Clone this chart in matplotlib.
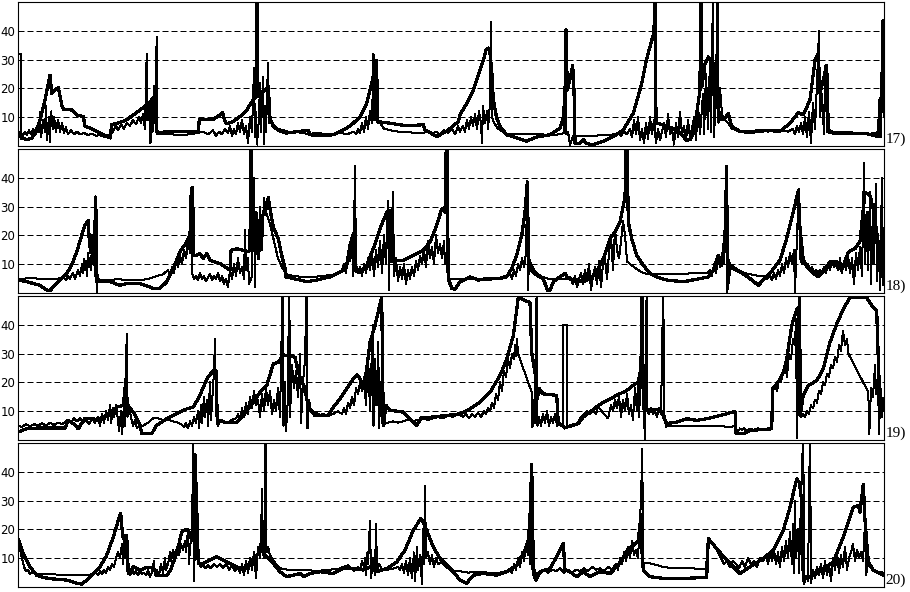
import matplotlib
matplotlib.use('Agg')
import matplotlib.pyplot as plt
import numpy as np

# position along each strip (0..866) and value
# thick = smoothed series, thin = raw daily series

thick_17 = [(0, 4.7), (3.3, 2.8), (8.7, 2.2), (13.7, 2.8), (18.7, 5.1), (22, 9.1), (27, 16), (32, 24.6),
            (33.7, 18.3), (37, 19.4), (40.3, 20.3), (43.7, 14.3), (45.3, 12.8), (53.7, 12.5), (58.7, 10.8),
            (65.3, 10.2), (67, 6.8), (72, 6.2), (78.7, 5.1), (85.3, 3.9), (92, 2.8), (93.7, 7.4), (102, 8.2),
            (108.7, 9.1), (115.3, 10.8), (122, 12.5), (128.7, 14.3), (133.7, 16), (136, 17.1), (138.7, 5.1),
            (142, 4.5), (148.7, 5.1), (180.3, 5.1), (181.3, 9.1), (195.3, 9.3), (202, 10.8), (204.7, 11.6),
            (207, 8.5), (208.7, 7.7), (215.3, 8.5), (222, 10.2), (228.7, 12.5), (235.3, 16), (238, 16.9),
            (239, 60), (240, 17.1), (242, 17.7), (248.7, 20), (250.3, 20.6), (252, 9.7), (255.3, 6.8),
            (262, 5.1), (268.7, 4.5), (282, 5.1), (290.3, 5.4), (292, 3.9), (302, 3.6), (315.3, 3.9),
            (322, 5.1), (328.7, 6.2), (335.3, 7.9), (342, 10.2), (348.7, 14.8), (353.7, 21.7), (357, 27.5),
            (358.7, 29.8), (359.3, 8.5), (372, 7.9), (388.7, 7), (405.3, 7.4), (407, 5.6), (418.7, 3.3),
            (428.7, 5.1), (440.3, 8.5), (442, 10.8), (448.7, 14.8), (455.3, 19.4), (460.3, 24.6), (465.3, 29.8),
            (468, 33.2), (470.3, 34), (472, 32), (473.7, 26.3), (475.3, 16), (478.7, 9.7), (482, 6.8),
            (488.7, 3.9), (498.7, 2.8), (508.7, 1.6), (512, 2.2), (518.7, 3.1), (532, 3.9), (542, 6.2),
            (545.3, 9.7), (547, 18.3), (548, 40.3), (549.3, 19.4), (552, 23.4), (554.7, 28), (556, 19.4),
            (557, 1), (562, 1), (565.3, 2.2), (568.7, 0.8), (575.3, 0.5), (585.3, 1.6), (595.3, 3.3),
            (605.3, 5.6), (615.3, 11.4), (623.7, 21.7), (628.7, 30.3), (633.7, 36.7), (636, 39.5), (637, 60),
            (638, 7.9), (645.3, 7.4), (658.7, 5.6), (665.3, 3.5), (668, 2), (672, 2.2), (675.3, 4.5),
            (678.7, 11.4), (682, 19.4), (682.7, 60), (684, 20.6), (687, 28.6), (690.3, 30.9), (693.7, 29.8),
            (697, 21.7), (700.3, 12.5), (703.7, 9.1), (707, 9.7), (710.3, 11.4), (713.7, 6.8), (722, 5.1),
            (732, 4.7), (748.7, 5.4), (762, 5.1), (772, 7.9), (780.3, 11.6), (785.3, 10.8), (792, 16),
            (797, 29.8), (800.3, 32), (802, 18.3), (808.7, 28), (810.3, 5.6), (815.3, 4.7), (832, 4.5),
            (848.7, 4.3), (860.3, 3.3), (862, 16), (863.7, 17.1), (865, 43.6), (866, 12)]

thin_17 = [(0, 32), (3.3, 32), (3.4, 4.5), (5, 3.5), (7, 5), (9, 3.8), (11, 5.5), (13, 4), (15, 6), (17, 4.5),
           (19, 7), (21, 5), (22, 12), (23, 3), (25, 9), (27, 5), (28, 14), (29, 2), (31, 10), (32, 1.2),
           (33, 12), (35, 6), (36, 10), (38, 5), (40, 9), (42, 5), (44, 8), (46, 4.5), (48, 6.5), (50, 4),
           (53, 5.5), (56, 4), (59, 5), (62, 4), (66, 4.5), (70, 3.8), (74, 4.2), (78, 3.5), (82, 3.8),
           (86, 3.2), (90, 3.8), (92, 3.5), (95, 5), (98, 7), (100, 5.5), (103, 7.5), (106, 6), (109, 8),
           (112, 7), (115, 9), (118, 7.5), (121, 10), (123, 8), (125, 11), (127, 6), (128.7, 32), (129.5, 9),
           (131, 14), (132.5, 1), (133.5, 15), (134.5, 5), (136, 21), (137, 8), (138.7, 38), (139.5, 4),
           (142, 4), (150, 4.2), (160, 3.8), (170, 4), (180, 4.5), (185, 5), (190, 4), (195, 5.5), (198, 3.5),
           (201, 5), (204, 4), (207, 6), (210, 4.5), (212, 7), (214, 3.5), (216, 6), (218, 4), (220, 8),
           (222, 5), (224, 9), (226, 4), (228, 7), (230, 1), (232, 10), (234, 5), (236, 27), (237, 3),
           (238, 12), (239, 0.5), (241, 10), (242, 22), (243, 5), (245, 24), (246, 0.5), (247, 14), (248, 5),
           (250, 29), (251, 8), (252, 9), (256, 7), (260, 6), (265, 5.5), (270, 5), (280, 4.8), (290, 4.2),
           (300, 4.5), (310, 4), (320, 4.5), (330, 4.2), (336, 5), (338, 4), (340, 6), (342, 4.5), (344, 8),
           (346, 5), (348, 10), (350, 6), (352, 12), (354, 8), (355.5, 32), (356.5, 9), (358, 16), (359.5, 8),
           (362, 8), (366, 6), (372, 5.5), (380, 5), (390, 4.8), (400, 4.5), (410, 4.8), (414, 4), (418, 5),
           (422, 4), (426, 5.5), (430, 4.5), (434, 6), (437, 4), (440, 7), (442, 5), (445, 7), (447, 5),
           (449, 9), (451, 6), (453, 10), (455, 7), (457, 11), (459, 6), (461, 12), (463, 8), (464, 1),
           (465, 14), (467, 8), (469, 12), (470, 6), (472, 15), (473, 43), (474, 10), (476, 8), (480, 6),
           (485, 5), (490, 4), (500, 4), (510, 4), (520, 4.2), (530, 3.8), (540, 4), (546, 4.5), (547.5, 40),
           (548.5, 4), (550, 5), (552, 0.3), (555, 3.5), (565, 3.5), (575, 3.5), (585, 3.8), (595, 4),
           (600, 4.5), (603, 3.5), (606, 5), (609, 4), (612, 6), (614, 3), (616, 9), (618, 4), (620, 10),
           (622, 2), (624, 6), (626, 1), (628, 8), (630, 2.5), (632, 10), (634, 4), (636, 9), (638, 1),
           (640, 6), (642, 2), (644, 5), (646, 8), (648, 3), (650, 11), (652, 4), (654, 6), (656, 0.5),
           (658, 8), (660, 3), (662, 12), (664, 4), (666, 7), (668, 2), (670, 9), (672, 3), (674, 6),
           (676, 10), (678, 2), (680, 14), (682, 4), (685, 18), (686, 4), (688, 25), (690, 6), (692, 30),
           (693, 5), (695, 55), (696, 3), (698, 20), (699.5, 55), (700.5, 8), (702, 20), (704, 11), (707, 9),
           (710, 8), (714, 6), (718, 5.5), (722, 5), (730, 5), (740, 5.5), (750, 5), (760, 5.5), (770, 5),
           (775, 6), (777, 4), (779, 7), (781, 5), (783, 8), (785, 4), (787, 10), (789, 3), (791, 12),
           (793, 1), (795, 15), (797, 6), (799, 22), (801, 40), (802, 10), (804, 18), (806, 4), (807.5, 28),
           (809, 5), (812, 4.5), (820, 4), (830, 4), (840, 4), (850, 4.2), (858, 4.5), (860, 5), (862, 8),
           (863, 3), (864.5, 43), (866, 10)]

thick_18 = [(0, 4.5), (8.7, 3.9), (15.3, 3.3), (22, 2.7), (28.7, 1), (32, 0.8), (35.3, 2.2), (42, 4.5),
            (48.7, 6.8), (53.7, 9.7), (58.7, 14.3), (63.7, 20), (67, 23.5), (70.3, 25.2), (71.3, 17.7),
            (73, 14), (74.5, 20), (76, 10), (77.7, 33.3), (79, 3.9), (82, 3.9), (92, 3.9), (102, 2.7),
            (108.7, 3.3), (122, 3.3), (135.3, 1.6), (142, 1.6), (148.7, 3.9), (155.3, 8.5), (162, 14.3),
            (168.7, 17.7), (172, 20), (173.3, 36.1), (174.7, 36.7), (175.3, 13.1), (178.7, 13.1), (182, 13.7),
            (185.3, 12), (188.7, 13.7), (192, 11.4), (202, 10.2), (212, 7.9), (213, 14.8), (218.7, 15.4),
            (225.3, 14.8), (230.3, 14.3), (232, 15), (232.7, 60), (233.7, 15.4), (235.3, 16.6), (238, 28),
            (240.3, 11.9), (243.7, 26.9), (247, 27.5), (250.3, 33.2), (252, 29.2), (255.3, 22.9),
            (260.3, 18.8), (263.7, 13.1), (267, 8.5), (268, 5.6), (275.3, 5), (282, 4.5), (288.7, 3.9),
            (298.7, 4.5), (312, 5.6), (318.7, 6.8), (325.3, 7.9), (328.7, 9.6), (332, 16.6), (335.3, 20.6),
            (337, 20.9), (338, 7.6), (342, 7.3), (348.7, 9.6), (355.3, 15.4), (362, 22.3), (368.7, 28),
            (372, 28.6), (373.7, 10.8), (378.7, 11.4), (385.3, 11.4), (395.3, 13.1), (405.3, 14.8), (412, 17.7),
            (418.7, 23.5), (423.7, 29.2), (427, 28), (428.7, 60), (430.3, 5), (433.7, 1.6), (437, 1.3),
            (442, 3.9), (452, 5.6), (460.3, 4.5), (465.3, 4.8), (482, 5), (488.7, 5.6), (493.7, 8.5),
            (498.7, 13.1), (503.7, 20), (507, 28), (509.3, 38.5), (510.7, 9.6), (513.7, 7.9), (518.7, 6.2),
            (525.3, 5), (529.3, 1), (532, 1), (535.3, 3.9), (542, 5.6), (547, 6.8), (550.3, 5), (558.7, 4.5),
            (565.3, 3.9), (572, 5), (578.7, 7.3), (585.3, 11.9), (592, 18.9), (597, 21.2), (602, 24.6),
            (607, 33.3), (608.7, 60), (610.3, 24.6), (613.7, 18.9), (618.7, 13.1), (625.3, 9.6), (632, 6.8),
            (638.7, 5.6), (648.7, 4.5), (665.3, 3.9), (682, 5), (690.3, 5.6), (695.3, 7.9), (700.3, 13.1),
            (703.7, 9.6), (707, 20), (708.7, 44), (709.3, 1.6), (712, 9), (722, 7.3), (732, 5), (740.3, 2.7),
            (745.3, 4.5), (752, 6.8), (762, 11.4), (768.7, 18.9), (775.3, 28.1), (780.3, 35.6), (782, 22.3),
            (785.3, 11.4), (790.3, 8.5), (795.3, 6.8), (800.3, 5.6), (805.3, 7.3), (812, 10.8), (818.7, 10.8),
            (823.7, 7.9), (830.3, 14.2), (837, 15.4), (842, 18), (847, 35), (852, 33.9), (855.3, 29.2),
            (858.7, 21), (862, 12), (865.3, 5), (866, 3)]

thin_18 = [(0, 5), (5, 4.8), (10, 5.2), (20, 5), (30, 4.8), (40, 5), (45, 5.5), (48, 4.5), (50, 6), (52, 5),
           (55, 7), (57, 5), (60, 8), (62, 6), (64, 10), (65, 7), (66, 12), (67, 8), (68, 11), (69, 6),
           (70, 14), (71, 9), (72, 12), (73, 8), (74, 18), (75, 10), (76, 20), (77, 6), (78, 30), (78.5, 15),
           (79, 0.3), (79.5, 5), (82, 4.5), (90, 4.5), (100, 4.8), (110, 4.5), (120, 4.5), (130, 4.8),
           (135, 5.5), (140, 6), (145, 6.5), (150, 8), (152, 6), (154, 9), (156, 7), (158, 11), (160, 9),
           (162, 13), (164, 10), (166, 15), (168, 12), (170, 18), (172, 14), (173, 25), (174, 7), (176, 5),
           (178, 6), (180, 4.5), (182, 7), (184, 5), (186, 6), (188, 4), (190, 5.5), (192, 6.5), (194, 4.5),
           (196, 6), (198, 5), (200, 7), (202, 4), (204, 6), (206, 3), (208, 5), (210, 2), (212, 8), (214, 5),
           (216, 10), (218, 6), (220, 12), (222, 7), (224, 9), (226, 5), (227, 22), (228, 8), (230, 12),
           (231, 3), (234, 6), (236, 40), (237, 2), (238, 28), (240, 12), (242, 30), (244, 15), (246, 33),
           (248, 28), (252, 24), (256, 18), (260, 12), (264, 9), (268, 6.5), (275, 6), (285, 5.5),
           (295, 5.5), (305, 6), (315, 6.2), (322, 7), (324, 8), (326, 10), (328, 7), (330, 13), (332, 11),
           (334, 18), (335, 6), (336, 20), (337, 44), (338, 8), (340, 7), (342, 9), (344, 6), (346, 10),
           (348, 7), (350, 12), (352, 8), (354, 14), (356, 6), (358, 15), (360, 9), (362, 18), (364, 7),
           (366, 20), (368, 10), (370, 32), (371, 1), (372, 25), (373, 14), (375, 35), (376, 6), (378, 12),
           (380, 4), (382, 9), (384, 5), (386, 10), (388, 3), (390, 8), (392, 5), (394, 9), (396, 6),
           (398, 11), (400, 8), (402, 13), (404, 10), (406, 15), (408, 9), (410, 18), (412, 12), (414, 16),
           (416, 10), (418, 20), (420, 14), (422, 17), (424, 12), (426, 18), (427, 10), (428, 13), (430, 5),
           (434, 5), (440, 5), (450, 5), (460, 4.8), (470, 5.2), (480, 5), (488, 6), (492, 7), (494, 5),
           (496, 8), (498, 6), (500, 10), (502, 8), (504, 12), (506, 9), (508, 14), (509.3, 39), (510, 1),
           (511, 12), (513, 10), (516, 8), (520, 6.5), (525, 5.5), (530, 5), (540, 5), (548, 5), (552, 5.5),
           (555, 3), (557, 6), (559, 2), (561, 5), (563, 7), (565, 3), (567, 8), (569, 4), (571, 10),
           (573, 1), (575, 6), (577, 9), (579, 3), (581, 11), (583, 2), (585, 10), (587, 12), (589, 5),
           (591, 14), (593, 20), (595, 8), (597, 22), (599, 15), (601, 12), (603, 18), (605, 25), (607, 20),
           (609, 11), (612, 10), (616, 9), (620, 8), (625, 7), (630, 6.5), (640, 6.5), (660, 6.5), (680, 7),
           (690, 7), (692, 8), (694, 6), (696, 10), (698, 7), (700, 12), (702, 9), (704, 14), (706, 10),
           (707, 18), (708, 42), (709, 0.3), (710, 12), (712, 10), (716, 9), (720, 8), (726, 7), (732, 6.5),
           (740, 6), (746, 6), (749, 5), (752, 6), (754, 4.5), (756, 7), (758, 5), (760, 8), (762, 6),
           (764, 10), (766, 7), (768, 12), (770, 9), (772, 14), (774, 10), (776, 15), (777, 0.3), (779, 20),
           (781, 36), (782, 12), (784, 10), (786, 11), (788, 9), (790, 10), (792, 8), (794, 9), (796, 7),
           (798, 8), (800, 6.5), (802, 8), (804, 7), (806, 9), (808, 7), (810, 10), (812, 8), (814, 11),
           (816, 9), (818, 10), (820, 8), (822, 12), (824, 7), (826, 11), (828, 8), (830, 13), (832, 7),
           (834, 12), (836, 3), (838, 14), (840, 8), (842, 16), (844, 6), (846, 45), (847, 10), (849, 28),
           (850, 8), (852, 35), (853, 3), (855, 30), (856, 10), (858, 38), (859, 4), (861, 18), (862, 1),
           (864, 40), (865, 6), (866, 5)]

thick_19 = [(0, 2.8), (8.7, 3.9), (22, 4.2), (47, 4.2), (50.3, 6.8), (55.3, 5.7), (60.3, 3.9), (67, 7.6),
            (73.7, 7.6), (78.7, 6.8), (85.3, 7.9), (92, 9.7), (98.7, 11.4), (105.3, 12), (108, 21.2),
            (109.3, 12), (115.3, 9.7), (122, 5.1), (123.7, 2.2), (133.7, 2.2), (138.7, 5.1), (148.7, 7.4),
            (158.7, 9.1), (168.7, 10.8), (175.3, 11.4), (182, 15.5), (188.7, 21.2), (195.3, 24.1), (198, 24),
            (199.3, 6.8), (208.7, 6), (218.7, 6), (225.3, 8.5), (235.3, 13.1), (242, 16.6), (248.7, 18.9),
            (255.3, 26.4), (260.3, 27), (265.3, 29.5), (272, 29.3), (277, 28.7), (280.3, 23.5), (287, 17.8),
            (290.3, 11.4), (295.3, 9.7), (302, 8.5), (310.3, 8.5), (315.3, 11.4), (322, 14.3), (328.7, 17.8),
            (335.3, 21.2), (339.3, 22.6), (342, 21.2), (345.3, 17.8), (348.7, 24.7), (352, 33.9), (357, 39.7),
            (362, 47.2), (363.7, 49.5), (365.3, 5.1), (368, 12), (372, 10.3), (385.3, 9.7), (395.3, 6.2),
            (398.7, 5.1), (403.7, 7.9), (412, 7.9), (428.7, 8.5), (442, 9.1), (452, 10.8), (462, 13.1),
            (472, 16.6), (482, 22.4), (488.7, 28.1), (495.3, 36.2), (500.3, 49.5), (512, 47.7), (513.7, 30.4),
            (517, 23.5), (519.3, 14.3), (521.3, 17.8), (523.7, 16.6), (525.3, 16), (538.7, 15.5),
            (540.3, 5.7), (543.7, 5.1), (547, 4.2), (553.7, 5.1), (560.3, 5.7), (565.3, 8), (572, 9.7),
            (580.3, 12), (588.7, 13.7), (598.7, 15.5), (608.7, 17.2), (617, 19.5), (620.3, 20.1), (623, 25),
            (624, 60), (625.3, 10.8), (632, 10.3), (642, 10.8), (648.7, 5.7), (658.7, 6.2), (668.7, 7.4),
            (678.7, 6.8), (692, 7.6), (705.3, 8.8), (717, 9.9), (718, 2.2), (725.3, 2.2), (732, 3.3),
            (753.7, 3.9), (754.7, 17.8), (760.3, 20.1), (765.3, 23.5), (768.7, 28.1), (773.7, 39.7),
            (778.7, 45.4), (780.3, 46), (782, 8.5), (785.3, 15.5), (790.3, 18.9), (798.7, 20.6), (805.3, 24.7),
            (812, 33.9), (818.7, 40.3), (825.3, 45.4), (832, 49.5), (848.7, 49.5), (853.7, 46.7),
            (858.7, 44.9), (860.3, 28.1), (862, 12), (865.3, 14.3), (866, 12)]

thin_19 = [(0, 5), (4, 4.5), (8, 5.5), (12, 4.8), (16, 5.5), (20, 5), (24, 5.8), (28, 5), (32, 6), (36, 5.2),
           (40, 6), (44, 5.5), (48, 6.5), (50, 7), (53, 6), (56, 7.5), (59, 6.5), (62, 7.5), (65, 6), (68, 7),
           (71, 5.5), (74, 7.5), (77, 6), (80, 8), (82, 5), (84, 9), (86, 6), (88, 10), (90, 7), (92, 12),
           (93, 6), (95, 11), (96, 8), (98, 12), (100, 7), (101, 3), (103, 10), (104, 2), (106, 12), (107, 5),
           (108.7, 37), (109.5, 8), (111, 12), (113, 8), (115, 5), (117, 7), (119, 4), (121, 5), (125, 5),
           (130, 6), (135, 7.5), (140, 7.5), (145, 7), (150, 7), (155, 6.5), (160, 6), (163, 5.5), (166, 4.5),
           (168, 6), (170, 4), (172, 6.5), (174, 5), (176, 8), (178, 6), (180, 10), (181, 4), (183, 12),
           (184, 6), (186, 15), (187, 8), (189, 14), (190, 5), (192, 20), (193, 7), (195, 18), (196, 24),
           (197, 35), (198, 10), (199, 6), (200, 5), (203, 7), (206, 6.5), (210, 6), (214, 7), (218, 7.5),
           (220, 9), (222, 7), (224, 11), (226, 8), (228, 13), (230, 9), (232, 15), (234, 11), (236, 17),
           (238, 12), (240, 14), (242, 8), (244, 16), (246, 10), (248, 18), (250, 12), (252, 17), (254, 9),
           (256, 14), (258, 10), (260, 18), (262, 8), (264.7, 55), (265.5, 5), (267, 20), (268, 3),
           (269.5, 12), (271.3, 55), (272, 8), (274, 26), (276, 18), (278, 24), (280, 15), (282, 30),
           (283, 6), (285, 20), (287, 28), (288.7, 55), (289.5, 4), (291, 14), (293, 10), (296, 8.5),
           (300, 8.5), (305, 9), (310, 8.5), (315, 9), (320, 10), (324, 9), (326, 11), (328, 9), (330, 13),
           (332, 11), (334, 15), (336, 12), (338, 18), (340, 16), (342, 20), (344, 17), (346, 22), (348, 12),
           (350, 30), (352, 10), (354.7, 40), (355.5, 5), (357, 28), (358.5, 12), (360.3, 34), (361, 4),
           (363, 20), (364, 6), (366, 5.5), (370, 6), (375, 6.5), (380, 6), (385, 6.5), (390, 7), (395, 6.5),
           (400, 7), (405, 7.5), (410, 7), (415, 7.5), (420, 8), (425, 7.5), (430, 8.5), (435, 8), (440, 9),
           (445, 8), (448, 9), (451, 7.5), (454, 9), (457, 8), (460, 9.5), (463, 8), (466, 10), (468, 9),
           (470, 11), (472, 10), (474, 13), (476, 11), (478, 16), (480, 14), (482, 20), (484, 17), (486, 24),
           (488, 22), (490, 28), (492, 25), (494, 30), (496, 28), (497, 33), (498, 29), (499, 35), (500, 30),
           (513.7, 16.6), (514.5, 4.5), (516, 14), (517, 6), (518.7, 55), (519.5, 5), (521, 8), (523, 5),
           (525, 9), (527, 6), (529, 10), (531, 5), (533, 8), (535, 6), (537, 9), (539, 5), (541, 6),
           (545, 5), (545.3, 40), (548.7, 40), (549, 5), (552, 4.5), (556, 5), (560, 6), (563, 8), (566, 9),
           (569, 10), (572, 9), (575, 10), (578, 9), (580, 11.5), (590, 7.5), (593, 12), (595, 10), (597, 14),
           (599, 11), (601, 15), (603, 8), (605, 14), (607, 10), (609, 16), (611, 9), (613, 12), (615, 7),
           (617, 18), (619, 10), (620, 20), (621, 8), (623, 24), (624.7, 55), (625.5, 12), (627, 0),
           (628.7, 55), (629.5, 10), (631, 9), (633, 11), (635, 9), (637, 10), (639, 8), (641, 11), (643, 9),
           (645.3, 55), (646, 10), (648, 4.5), (650, 5), (655, 5), (660, 5), (670, 5), (680, 5), (690, 5),
           (700, 5), (710, 4.5), (717, 4.8), (718, 4), (720, 3), (722, 4), (724, 3.5), (726, 4), (728, 3.2),
           (732, 4), (736, 3.5), (740, 4), (745, 3.8), (750, 4), (753, 4.2), (755, 17), (757, 19), (759, 17),
           (761, 21), (763, 20), (765, 24), (767, 26), (769, 22), (771, 30), (773, 28), (775, 35), (777, 33),
           (778, 42), (779, 0.5), (780.5, 40), (782, 55), (783, 8), (785, 9), (787, 8), (789, 10), (791, 9),
           (793, 12), (795, 11), (797, 14), (799, 13), (801, 17), (803, 16), (805, 20), (807, 19), (809, 23),
           (811, 22), (813, 26), (815, 25), (817, 29), (819, 27), (821, 33), (823, 31), (825, 38),
           (827, 33), (829, 35), (830.3, 30), (850.3, 16.6), (851.3, 2), (853, 18), (855, 15), (857, 26),
           (858, 16), (860, 22), (861, 2), (862.5, 18), (864, 8), (865.5, 14), (866, 12)]

thick_20 = [(0, 16.8), (5.3, 11.6), (12, 7), (18.7, 4.1), (25.3, 3.3), (35.3, 2.8), (48.7, 2.4), (58.7, 1.3),
            (63.7, 1), (68.7, 2.4), (75.3, 4.7), (82, 7), (88.7, 11), (95.3, 17.4), (100.3, 23.1),
            (102.7, 25.6), (104.7, 17.4), (107, 16.2), (108.7, 17.9), (110.3, 4.7), (115.3, 7), (122, 5.9),
            (128.7, 6.8), (135.3, 6.8), (138.7, 4.1), (148.7, 4.1), (152, 5.5), (158.7, 11.6), (163.7, 19.1),
            (167, 19.9), (170.3, 19.7), (173.7, 16.2), (175.5, 30), (177, 46), (178.7, 27.7), (180.3, 8.2),
            (185.3, 8.2), (192, 9.3), (198.7, 10.5), (205.3, 9.3), (212, 8.2), (222, 6.4), (228.7, 7),
            (235.3, 9.9), (242, 12.2), (245.3, 20.8), (247, 10.5), (248.7, 10.5), (255.3, 8.2), (262, 5.3),
            (268.7, 3.6), (275.3, 4.1), (282, 4.7), (285.3, 3.6), (292, 4.7), (302, 5.3), (315.3, 4.7),
            (325.3, 6.4), (335.3, 6.4), (345.3, 5.9), (352, 7), (358.7, 5.3), (368.7, 6.4), (378.7, 8.7),
            (387, 12.8), (395.3, 19.7), (402.7, 23.7), (405.3, 22.5), (408.7, 19.7), (415.3, 13.9), (422, 9.9),
            (428.7, 7.6), (435.3, 5.3), (442, 2.4), (448.7, 1.3), (455.3, 4.1), (465.3, 4.7), (478.7, 4.1),
            (488.7, 5.3), (498.7, 7.6), (507, 12.8), (510.3, 16.2), (512, 24.3), (513.7, 42.6), (515.3, 7),
            (518, 2.4), (522, 5.3), (532, 6.4), (538.7, 10.5), (545.3, 15.1), (547, 5.9), (552, 5.3),
            (558.7, 3.6), (565.3, 5.3), (572, 3.6), (582, 5.3), (592, 4.7), (602, 8.2), (610.3, 13.3),
            (615.3, 14.5), (620.3, 16.2), (623, 25), (624, 12), (625.3, 5.9), (632, 3.6), (645.3, 3),
            (665.3, 3), (688.7, 3.3), (690.3, 16.8), (698.7, 13.3), (708.7, 9.3), (722, 4.7), (732, 7),
            (745.3, 9.9), (755.3, 12.8), (765.3, 19.7), (772, 27.7), (778.7, 37.5), (781.3, 36.3),
            (783.7, 30), (785.3, 2.4), (792, 3.6), (802, 5.3), (815.3, 8.7), (825.3, 17.4), (835.3, 27.7),
            (840.3, 28.3), (842, 26), (845.3, 35.7), (847, 23.1), (850.3, 8.7), (855.3, 5.9), (865.3, 4.1),
            (866, 4)]

thin_20 = [(0, 17), (2, 13), (4, 10), (6, 7), (8, 5.5), (10, 6), (12, 4.5), (14, 5), (20, 4.5), (30, 4.5),
           (40, 4.3), (50, 4.2), (60, 4), (70, 4.2), (75, 4.5), (78, 5), (80, 4), (82, 5.5), (84, 4.5),
           (86, 6), (88, 5), (90, 7), (92, 6), (94, 8), (96, 7), (98, 10), (100, 12), (102, 10), (104, 15),
           (105, 8), (106, 18), (107, 10), (108, 17), (109, 6), (110, 5), (112, 4), (114, 6), (116, 4.5),
           (118, 5.5), (120, 4), (122, 6), (124, 4.5), (126, 5), (128, 4), (130, 6), (132, 3.5), (134, 5),
           (136, 9), (137, 4), (139, 6), (141, 4), (143, 8), (145, 5), (147, 10), (148, 6), (150, 8),
           (152, 12), (153, 9), (155, 13), (157, 10), (159, 14), (161, 11), (163, 15), (165, 13), (167, 16),
           (168, 12), (170, 20), (171, 8), (172, 14), (174, 18), (175.3, 55), (176, 2), (178, 30), (179, 10),
           (181, 8), (183, 7), (185, 8), (187, 6.5), (190, 7.5), (193, 6.5), (196, 8), (199, 7), (202, 8),
           (205, 6.5), (208, 8), (211, 6), (214, 7.5), (217, 5.5), (220, 7), (222, 5), (224, 8), (226, 4),
           (228, 9), (230, 5), (232, 10), (234, 6), (236, 12), (238, 3), (240, 14), (242, 10), (243, 16),
           (244, 34), (245, 12), (246, 10), (247.7, 55), (248.5, 12), (250, 14), (252, 11), (254, 10),
           (258, 8), (262, 6.5), (270, 6), (280, 5.8), (290, 5.8), (300, 5.6), (310, 6), (320, 6.2), (325, 7),
           (330, 7.5), (333, 6.5), (336, 5.5), (340, 7), (342, 6), (344, 9), (346, 7), (347, 10), (348, 4),
           (349, 12), (350, 8), (352, 23), (353, 3), (355, 10), (357, 4), (358, 22), (359, 6), (361, 8),
           (364, 6), (370, 6), (376, 6.5), (380, 7), (382, 6), (384, 8), (386, 5), (388, 9), (390, 4),
           (392, 10), (394, 3), (396, 12), (397, 2), (399, 14), (400, 6), (402, 11), (404, 1), (405, 20),
           (406, 8), (407, 35), (408, 10), (410, 12), (412, 8), (414, 11), (416, 7), (418, 10), (420, 8),
           (424, 8.5), (428, 7), (432, 6), (436, 5.5), (442, 5.5), (450, 5), (460, 5.3), (470, 5), (480, 4.8),
           (488, 5.5), (492, 6), (494, 5), (496, 8), (498, 6), (500, 10), (502, 7), (504, 12), (506, 9),
           (508, 15), (510, 11), (511, 20), (512, 8), (513.7, 42), (514.5, 6), (516, 3), (518, 5),
           (522, 4.5), (526, 6), (530, 5), (534, 6), (538, 5.5), (542, 6.5), (546, 5), (550, 6), (554, 5),
           (558, 6), (562, 5.5), (566, 6.5), (570, 5.5), (574, 7), (578, 6), (582, 6.5), (586, 5.5), (590, 7),
           (594, 6), (598, 8), (600, 6), (602, 10), (604, 8), (606, 12), (608, 9), (610, 14), (612, 10),
           (614, 16), (616, 11), (618, 13), (620, 10), (622, 24), (623, 30), (624.3, 48), (625, 8), (628, 8.5),
           (635, 8), (645, 7), (655, 6.5), (670, 6.5), (688, 6.3), (690, 16.8), (695, 15), (700, 12),
           (703, 10), (706, 8), (709, 9), (712, 7), (715, 9), (718, 8), (721, 6.5), (724, 9), (727, 7),
           (730, 10), (733, 8), (736, 9), (739, 7), (742, 10), (745, 9), (748, 11), (750, 8), (752, 12),
           (754, 9), (756, 13), (758, 8), (760, 12), (762, 7), (764, 14), (766, 9), (768, 16), (770, 10),
           (772, 19), (774, 8), (775, 22), (776, 5), (777, 30), (778, 10), (780, 20), (781, 5), (783, 30),
           (785.3, 55), (786, 1), (788, 4), (790, 2), (792, 55), (793, 1.5), (795, 6), (797, 3), (799, 7),
           (801, 4), (803, 8), (805, 3), (807, 9), (809, 4), (811, 8), (813, 2), (815, 10), (817, 6),
           (819, 12), (821, 5), (823, 11), (825, 7), (827, 14), (829, 6), (831, 10), (833, 12), (835, 15),
           (837, 9), (839, 13), (841, 10), (843, 12), (845, 9), (847, 22), (848, 4), (850, 8), (853, 6.5),
           (856, 6), (860, 5), (864, 5.2), (866, 4.5)]

PANELS = [('17)', thick_17, thin_17),
          ('18)', thick_18, thin_18),
          ('19)', thick_19, thin_19),
          ('20)', thick_20, thin_20)]

W, H = 910.0, 592.0
TOPS = [2, 149, 296, 443]

fig = plt.figure(figsize=(W / 100, H / 100), dpi=100)

for (label, thick, thin), top in zip(PANELS, TOPS):
    ax = fig.add_axes([18 / W, 1 - (top + 144) / H, 866 / W, 144 / H])
    tt, tv = np.array(thin).T
    kt, kv = np.array(thick).T
    for y in (10, 20, 30, 40):
        ax.axhline(y, color='black', lw=0.72, ls=(0, (6, 3)), zorder=1)
    ax.plot(tt, tv, color='black', lw=0.72, antialiased=False, zorder=2)
    ax.plot(kt, kv, color='black', lw=1.6, antialiased=False, zorder=3)
    ax.set_xlim(0, 866)
    ax.set_ylim(0, 50)
    ax.set_xticks([])
    ax.set_yticks([10, 20, 30, 40])
    ax.tick_params(axis='y', length=0, pad=2, labelsize=8.5)
    for s in ax.spines.values():
        s.set_linewidth(0.8)
    ax.text(1.002, 0.0, label, transform=ax.transAxes, ha='left', va='bottom',
            fontsize=11, family='Liberation Serif')

fig.savefig('out.png', dpi=100)
